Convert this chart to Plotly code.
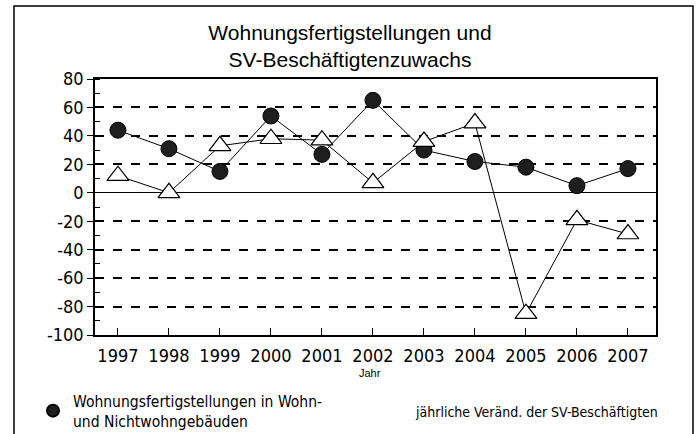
import plotly.graph_objects as go

years = [1997, 1998, 1999, 2000, 2001, 2002, 2003, 2004, 2005, 2006, 2007]
wohnungen = [44, 31, 15, 54, 27, 65, 30, 22, 18, 5, 17]
sv_besch = [12, 0, 33, 38, 37, 7, 36, 49, -85, -19, -29]
y_ticks = [80, 60, 40, 20, 0, -20, -40, -60, -80, -100]
y_labels = ["80", "60", "40", "20", "0", "-20", "-40", "-60", "-80", "-100"]

title_text = "Wohnungsfertigstellungen und<br>SV-Beschäftigtenzuwachs"
name_w = "Wohnungsfertigstellungen in Wohn-<br>und Nichtwohngebäuden"
name_sv = "jährliche Veränd. der SV-Beschäftigten"

W, H = 700, 434
L, R, T, B = 95, 44, 79, 99
pw, ph = W - L - R, H - T - B


def px(x):
    return (x - L) / pw


def py(y):
    return 1 - (y - T) / ph


narrow = "DejaVu Sans Condensed, DejaVu Sans, sans-serif"
arial = "Liberation Sans, Arial, sans-serif"

fig = go.Figure()
# connecting lines
fig.add_trace(go.Scatter(
    x=years, y=wohnungen, mode="lines", showlegend=False, hoverinfo="skip",
    line=dict(color="black", width=1),
))
fig.add_trace(go.Scatter(
    x=years, y=wohnungen, mode="markers", name=name_w,
    marker=dict(symbol="circle", size=16, color="#1e1e1e",
                line=dict(color="black", width=1)),
))
fig.add_trace(go.Scatter(
    x=years, y=sv_besch, mode="lines+markers", name=name_sv, showlegend=False,
    line=dict(color="black", width=1),
    marker=dict(symbol="triangle-up", size=19, color="white",
                line=dict(color="black", width=1.2)),
))

fig.update_layout(
    width=W, height=H,
    margin=dict(l=L, r=R, t=T, b=B, autoexpand=False),
    paper_bgcolor="white", plot_bgcolor="white",
    title=dict(text=title_text, x=0.5, xanchor="center", y=1 - 40 / H,
               yanchor="middle", font=dict(family=arial, size=21, color="black")),
    showlegend=True,
    legend=dict(x=px(33), y=py(411), xanchor="left", yanchor="middle",
                font=dict(family=narrow, size=15.5, color="black"),
                bgcolor="rgba(0,0,0,0)", itemsizing="constant"),
    xaxis=dict(
        range=[1996.55, 2007.55], tickmode="array", tickvals=years,
        ticks="inside", ticklen=7, tickcolor="black", tickwidth=1,
        ticklabelstandoff=4,
        showgrid=False, zeroline=False,
        showline=True, linecolor="black", linewidth=1.5, mirror=True,
        tickfont=dict(family=narrow, size=18, color="black"),
    ),
    yaxis=dict(
        range=[-100, 80], tickmode="array", tickvals=y_ticks, ticktext=y_labels,
        ticks="outside", ticklen=6, tickcolor="black", tickwidth=1,
        showgrid=True, gridcolor="black", gridwidth=1.5, griddash="dash",
        zeroline=True, zerolinecolor="black", zerolinewidth=1.2,
        showline=True, linecolor="black", linewidth=1.5, mirror=True,
        tickfont=dict(family=narrow, size=18, color="black"),
        minor=dict(dtick=10, ticks="inside", ticklen=5, tickcolor="black",
                   showgrid=False),
    ),
)

fig.add_annotation(text="Jahr", xref="paper", yref="paper", x=px(370), y=py(373),
                   yanchor="middle", showarrow=False,
                   font=dict(family=arial, size=11, color="black"))
fig.add_annotation(text=name_sv, xref="paper", yref="paper", x=px(660), y=py(412),
                   xanchor="right", yanchor="middle", showarrow=False,
                   font=dict(family=narrow, size=14, color="black"))

fig.add_shape(type="rect", xref="paper", yref="paper",
              x0=px(14), x1=px(693), y0=py(445), y1=py(6),
              line=dict(color="black", width=1.5), fillcolor="rgba(0,0,0,0)",
              layer="below")

fig.write_html("out.html", config={"displayModeBar": False},
               post_script="document.body.style.margin='0px';document.body.style.overflow='hidden';")
